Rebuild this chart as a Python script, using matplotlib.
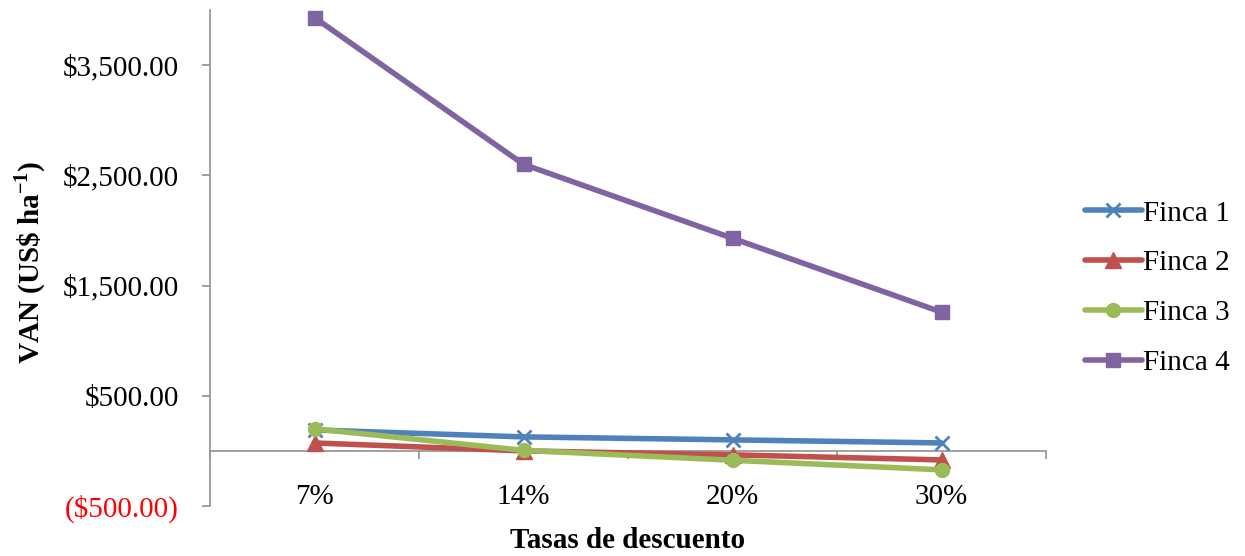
import matplotlib.pyplot as plt
import numpy as np
from matplotlib.lines import Line2D

# tasas de descuento y VAN por finca (US$ ha-1)
tasas = ['7%', '14%', '20%', '30%']
finca1 = [190, 127, 100, 72]
finca2 = [72, 0, -36, -82]
finca3 = [200, 5, -85, -172]
finca4 = [3931, 2600, 1929, 1259]
yticks = [-500, 500, 1500, 2500, 3500]

plt.rcParams['font.family'] = ['Liberation Serif', 'DejaVu Serif']
plt.rcParams['mathtext.fontset'] = 'custom'
plt.rcParams['mathtext.rm'] = 'Liberation Serif'
plt.rcParams['mathtext.bf'] = 'Liberation Serif:bold'

FS = 21

fig = plt.figure(figsize=(12.45, 5.56), dpi=100)
ax = fig.add_axes([210/1245, 1-506/556, (1046-210)/1245, (506-10)/556])

x = np.arange(len(tasas))
series = [
    (finca1, 'Finca 1', '#4f81bd', 'x', 10),
    (finca2, 'Finca 2', '#c0504d', '^', 11),
    (finca3, 'Finca 3', '#9bbb59', 'o', 10),
    (finca4, 'Finca 4', '#8064a2', 's', 10),
]
handles = []
for vals, name, col, mk, ms in series:
    kw = dict(color=col, lw=4, marker=mk, ms=ms, mew=2 if mk == 'x' else 1,
              mec=col, mfc=col, solid_capstyle='round')
    ax.plot(x, vals, clip_on=False, zorder=3, **kw)
    handles.append(Line2D([], [], **kw))

ax.set_xlim(-0.5, 3.5)
ax.set_ylim(-500, 4000)

# eje x cruzando en cero
ax.spines['top'].set_visible(False)
ax.spines['right'].set_visible(False)
ax.spines['bottom'].set_position(('data', 0))
for s in ['left', 'bottom']:
    ax.spines[s].set_color('#999999')
    ax.spines[s].set_linewidth(1.3)

ax.set_xticks(np.arange(-0.5, 3.6, 1.0))
ax.set_xticklabels([])
ax.tick_params(axis='x', length=6, width=1.3, color='#999999', direction='out')
for xi, t in zip(x, tasas):
    ax.text(xi, -420, t, ha='center', va='center', fontsize=FS)

def fmt(v):
    if v < 0:
        return '(${:,.2f})'.format(-v)
    return '${:,.2f}'.format(v)

ax.set_yticks(yticks)
ax.set_yticklabels([fmt(v) for v in yticks], fontsize=FS)
for lab, v in zip(ax.get_yticklabels(), yticks):
    if v < 0:
        lab.set_color('red')
ax.tick_params(axis='y', length=5.5, width=1.3, color='#999999', pad=17)

fig.text(30/1245, 1-262/556, r'VAN (US\$ ha$^{\mathbf{-1}}$)', rotation=90,
         ha='center', va='center', fontsize=FS, fontweight='bold')
fig.text(628/1245, 1-541/556, 'Tasas de descuento', ha='center', va='center',
         fontsize=FS, fontweight='bold')

fig.legend(handles, [s[1] for s in series], loc='center left',
           bbox_to_anchor=(1085/1245, 1-288/556), frameon=False, fontsize=FS,
           handlelength=1.95, handletextpad=0.05, labelspacing=0.8, borderpad=0,
           borderaxespad=0)

fig.savefig('out.png', dpi=100)
